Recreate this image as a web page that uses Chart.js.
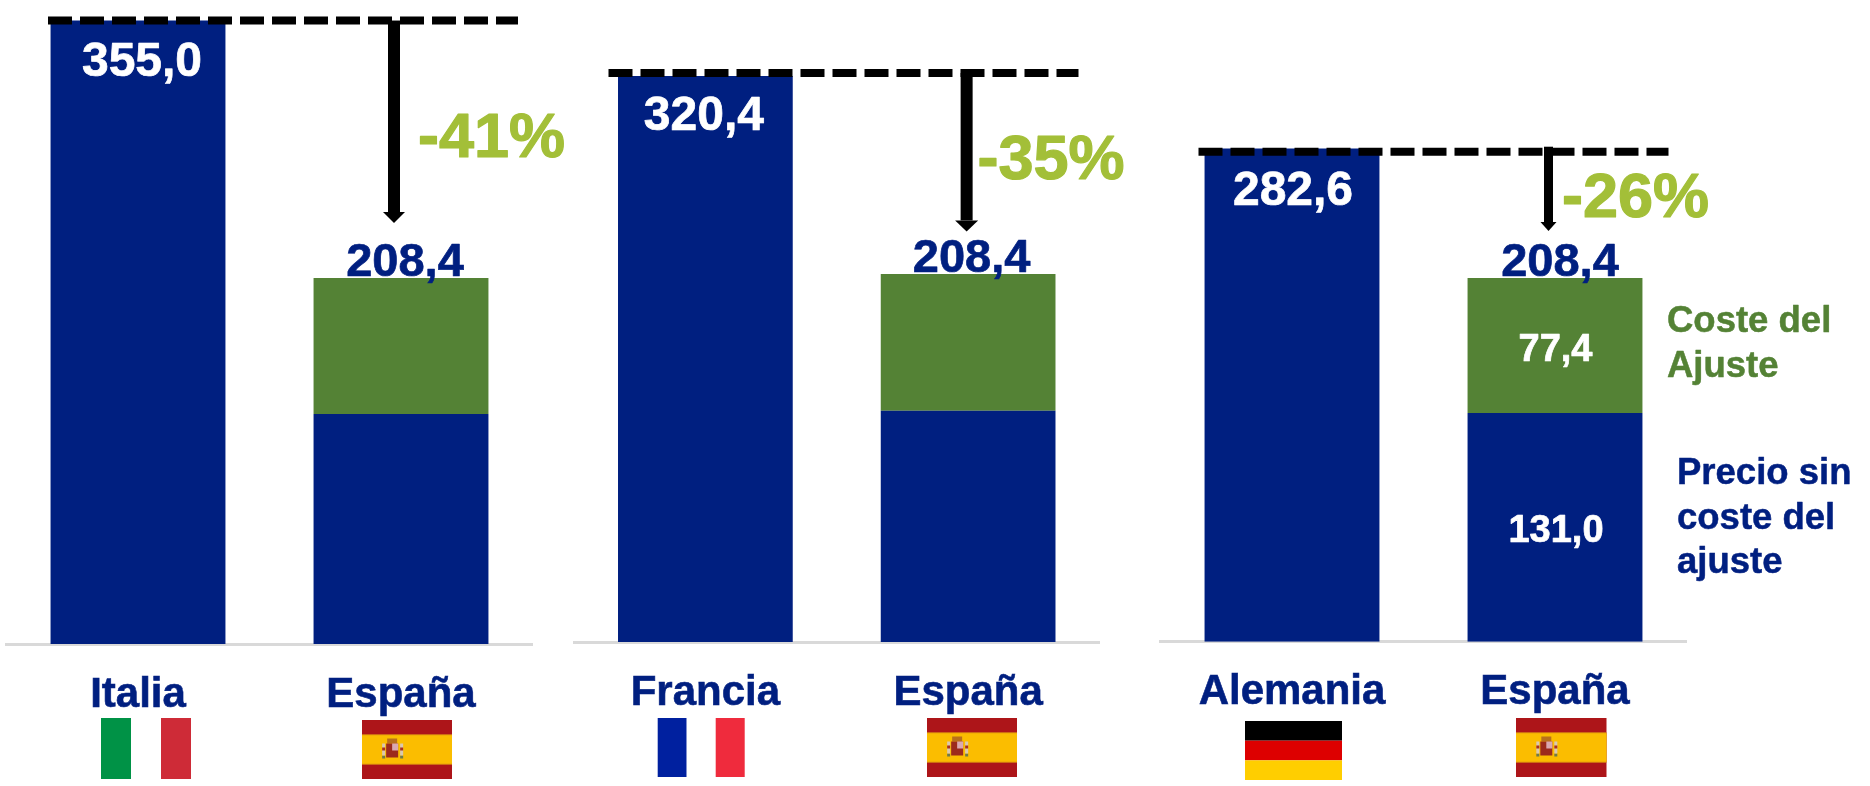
<!DOCTYPE html>
<html lang="es">
<head>
<meta charset="utf-8">
<title>Precio con y sin coste del ajuste</title>
<script src="https://cdn.jsdelivr.net/npm/chart.js@4/dist/chart.umd.min.js"></script>
<style>
    html, body { margin: 0; padding: 0; background: #fff; }
    body { position: relative; width: 1870px; height: 786px; overflow: hidden; }
    canvas { position: absolute; top: 0; }
</style>
</head>
<body>
<canvas id="chartItalia"></canvas>
<canvas id="chartFrancia"></canvas>
<canvas id="chartAlemania"></canvas>
<script>
const categoriesItalia = ['Italia', 'España'];
const categoriesFrancia = ['Francia', 'España'];
const categoriesAlemania = ['Alemania', 'España'];

const precioItalia = [355.0, 131.0];
const costeItalia = [0, 77.4];
const precioFrancia = [320.4, 131.0];
const costeFrancia = [0, 77.4];
const precioAlemania = [282.6, 131.0];
const costeAlemania = [0, 77.4];

const diffItalia = '-41%';
const diffFrancia = '-35%';
const diffAlemania = '-26%';

const NAVY = '#001F80';
const GREEN = '#548235';
const LIME = '#A3BF38';
const FONT = '"Liberation Sans", Arial, sans-serif';

function fmt(v) {
    return v.toFixed(1).replace('.', ',');
}

function boldText(ctx, text, x, y, weight) {
    ctx.strokeStyle = ctx.fillStyle;
    ctx.lineWidth = weight;
    ctx.lineJoin = 'round';
    ctx.strokeText(text, x, y);
    ctx.fillText(text, x, y);
}

function drawSpainFlag(ctx, x, y, w, h) {
    const band = h * 0.25;
    ctx.fillStyle = '#AD1519';
    ctx.fillRect(x, y, w, h);
    ctx.fillStyle = '#D98A10';
    ctx.fillRect(x, y + band - 0.5, w, h - 2 * band + 1);
    ctx.fillStyle = '#FBBD00';
    ctx.fillRect(x, y + band + 0.5, w, h - 2 * band - 1);
    // escudo
    const cx = x + w * 0.335;
    const cy = y + h * 0.5;
    ctx.fillStyle = '#B8701C';
    ctx.fillRect(cx - 5, cy - 11, 10, 5);
    ctx.fillStyle = '#9C2A1C';
    ctx.fillRect(cx - 6, cy - 6, 12, 14);
    ctx.fillStyle = '#D9A8B0';
    ctx.fillRect(cx, cy - 6, 6, 7);
    ctx.fillStyle = '#6E7A4A';
    ctx.fillRect(cx - 10, cy + 6, 3, 3);
    ctx.fillRect(cx + 8, cy + 6, 3, 3);
    ctx.fillStyle = '#D9C8B0';
    ctx.fillRect(cx - 10, cy - 6, 3, 12);
    ctx.fillRect(cx + 8, cy - 6, 3, 12);
    ctx.fillStyle = '#A8301C';
    ctx.fillRect(cx - 10, cy - 2, 3, 3);
    ctx.fillRect(cx + 8, cy - 2, 3, 3);
}

function drawFlag(ctx, flag) {
    const { type, x, y, w, h } = flag;
    if (type === 'es') {
        drawSpainFlag(ctx, x, y, w, h);
    } else if (type === 'de') {
        ['#000000', '#DD0000', '#FFCE00'].forEach((c, i) => {
            ctx.fillStyle = c;
            ctx.fillRect(x, y + i * h / 3, w, h / 3);
        });
    } else {
        const colors = type === 'it' ? ['#009246', '#FFFFFF', '#CE2B37'] : ['#00209F', '#FFFFFF', '#EF2B3D'];
        colors.forEach((c, i) => {
            ctx.fillStyle = c;
            ctx.fillRect(x + i * w / 3, y, w / 3, h);
        });
    }
}

// everything that is not a bar: labels, dashed level, arrow, flags
const extrasPlugin = {
    id: 'extras',
    afterDraw(chart, args, opts) {
        const { ctx, scales: { x, y } } = chart;
        const total = opts.total;
        const refValue = opts.reference;
        ctx.save();
        ctx.textBaseline = 'alphabetic';

        // barras: etiquetas de valor
        opts.labels.forEach(l => {
            ctx.font = `bold ${l.size}px ${FONT}`;
            ctx.fillStyle = l.color;
            ctx.textAlign = 'center';
            boldText(ctx, fmt(l.value), x.getPixelForValue(l.index) + l.dx, y.getPixelForValue(l.at) + l.dy, 0.7);
        });

        // linea discontinua
        const lineY = y.getPixelForValue(refValue) + opts.dash.dy;
        ctx.strokeStyle = '#000';
        ctx.lineWidth = 8;
        ctx.setLineDash([24, 8]);
        ctx.beginPath();
        ctx.moveTo(opts.dash.x0, lineY);
        ctx.lineTo(opts.dash.x1, lineY);
        ctx.stroke();
        ctx.setLineDash([]);

        // flecha
        const a = opts.arrow;
        const ax = x.getPixelForValue(1) + a.dx;
        const tip = y.getPixelForValue(total) + a.tipDy;
        const top = lineY + a.topDy;
        ctx.fillStyle = '#000';
        ctx.fillRect(ax - a.shaft / 2, top, a.shaft, tip - a.headH - top);
        ctx.beginPath();
        ctx.moveTo(ax - a.headW / 2, tip - a.headH);
        ctx.lineTo(ax + a.headW / 2, tip - a.headH);
        ctx.lineTo(ax, tip);
        ctx.closePath();
        ctx.fill();

        // porcentaje
        ctx.font = `bold 63px ${FONT}`;
        ctx.fillStyle = LIME;
        ctx.textAlign = 'left';
        boldText(ctx, opts.diff.text, opts.diff.x, opts.diff.y, 1.2);

        // leyenda lateral
        (opts.side || []).forEach(s => {
            ctx.font = `bold 36.5px ${FONT}`;
            ctx.fillStyle = s.color;
            boldText(ctx, s.text, s.x, s.y, 0.5);
        });

        opts.flags.forEach(f => drawFlag(ctx, f));
        ctx.restore();
    },
};

function makeChart(id, left, width, axisL, axisR, base, yMax, categories, precio, coste, extras) {
    const canvas = document.getElementById(id);
    canvas.width = width;
    canvas.height = 786;
    canvas.style.left = left + 'px';
    canvas.style.width = width + 'px';
    canvas.style.height = '786px';
    return new Chart(canvas.getContext('2d'), {
        type: 'bar',
        data: {
            labels: categories,
            datasets: [
                { label: 'Precio sin coste del ajuste', data: precio, backgroundColor: NAVY },
                { label: 'Coste del Ajuste', data: coste, backgroundColor: GREEN },
            ],
        },
        plugins: [extrasPlugin],
        options: {
            responsive: false,
            animation: false,
            layout: { padding: { left: axisL - left, right: left + width - axisR, top: 0, bottom: 0 } },
            datasets: { bar: { barPercentage: 1, categoryPercentage: 0.665 } },
            plugins: {
                legend: { display: false },
                tooltip: { enabled: false },
                extras: extras,
            },
            scales: {
                x: {
                    stacked: true,
                    grid: { display: false, drawTicks: false },
                    border: { color: '#D9D9D9', width: 3 },
                    ticks: {
                        color: NAVY,
                        font: { family: FONT, size: 42, weight: 'bold' },
                        padding: 26,
                        maxRotation: 0,
                        autoSkip: false,
                        textStrokeColor: NAVY,
                        textStrokeWidth: 0.6,
                    },
                    afterFit(scale) { scale.height = 786 - base; },
                },
                y: { stacked: true, display: false, min: 0, max: yMax },
            },
        },
    });
}

makeChart('chartItalia', 0, 570, 6.5, 532.5, 644, 366.7, categoriesItalia, precioItalia, costeItalia, {
    total: precioItalia[1] + costeItalia[1],
    reference: precioItalia[0],
    labels: [
        { value: precioItalia[0], index: 0, at: precioItalia[0], dx: 4, dy: 55, size: 48, color: '#fff' },
        { value: precioItalia[1] + costeItalia[1], index: 1, at: precioItalia[1] + costeItalia[1], dx: 4, dy: -2.5, size: 47, color: NAVY },
    ],
    dash: { x0: 48, x1: 518, dy: 0 },
    arrow: { dx: -7, tipDy: -55, topDy: 0, shaft: 12, headW: 22, headH: 11 },
    diff: { text: diffItalia, x: 418, y: 157 },
    flags: [
        { type: 'it', x: 101, y: 718, w: 90, h: 61 },
        { type: 'es', x: 362, y: 720, w: 90, h: 59 },
    ],
});

makeChart('chartFrancia', 570, 580, 574, 1099.5, 642, 363.5, categoriesFrancia, precioFrancia, costeFrancia, {
    total: precioFrancia[1] + costeFrancia[1],
    reference: precioFrancia[0],
    labels: [
        { value: precioFrancia[0], index: 0, at: precioFrancia[0], dx: -1.5, dy: 54, size: 48, color: '#fff' },
        { value: precioFrancia[1] + costeFrancia[1], index: 1, at: precioFrancia[1] + costeFrancia[1], dx: 3.5, dy: -1.5, size: 47, color: NAVY },
    ],
    dash: { x0: 38.5, x1: 508.5, dy: -3.2 },
    arrow: { dx: -1.5, tipDy: -42.5, topDy: 0, shaft: 12, headW: 23, headH: 11 },
    diff: { text: diffFrancia, x: 407.5, y: 179 },
    flags: [
        { type: 'fr', x: 87.7, y: 718, w: 87, h: 59 },
        { type: 'es', x: 357, y: 718, w: 90, h: 59 },
    ],
});

makeChart('chartAlemania', 1150, 720, 1160.5, 1686.5, 641.7, 367.7, categoriesAlemania, precioAlemania, costeAlemania, {
    total: precioAlemania[1] + costeAlemania[1],
    reference: precioAlemania[0],
    labels: [
        { value: precioAlemania[0], index: 0, at: precioAlemania[0], dx: 1, dy: 56.5, size: 48, color: '#fff' },
        { value: precioAlemania[1] + costeAlemania[1], index: 1, at: precioAlemania[1] + costeAlemania[1], dx: 5, dy: -2.5, size: 47, color: NAVY },
        { value: costeAlemania[1], index: 1, at: precioAlemania[1] + costeAlemania[1], dx: 0.5, dy: 83, size: 38, color: '#fff' },
        { value: precioAlemania[1], index: 1, at: precioAlemania[1], dx: 1, dy: 129, size: 38, color: '#fff' },
    ],
    dash: { x0: 48.5, x1: 518.5, dy: 3.2 },
    arrow: { dx: -6.5, tipDy: -47, topDy: -5, shaft: 9, headW: 16, headH: 9 },
    diff: { text: diffAlemania, x: 412, y: 217 },
    side: [
        { text: 'Coste del', x: 517, y: 332, color: GREEN },
        { text: 'Ajuste', x: 517, y: 377, color: GREEN },
        { text: 'Precio sin', x: 527, y: 484, color: NAVY },
        { text: 'coste del', x: 527, y: 529, color: NAVY },
        { text: 'ajuste', x: 527, y: 573, color: NAVY },
    ],
    flags: [
        { type: 'de', x: 95, y: 721, w: 97, h: 59 },
        { type: 'es', x: 366, y: 718, w: 90.5, h: 59 },
    ],
});
</script>
</body>
</html>
